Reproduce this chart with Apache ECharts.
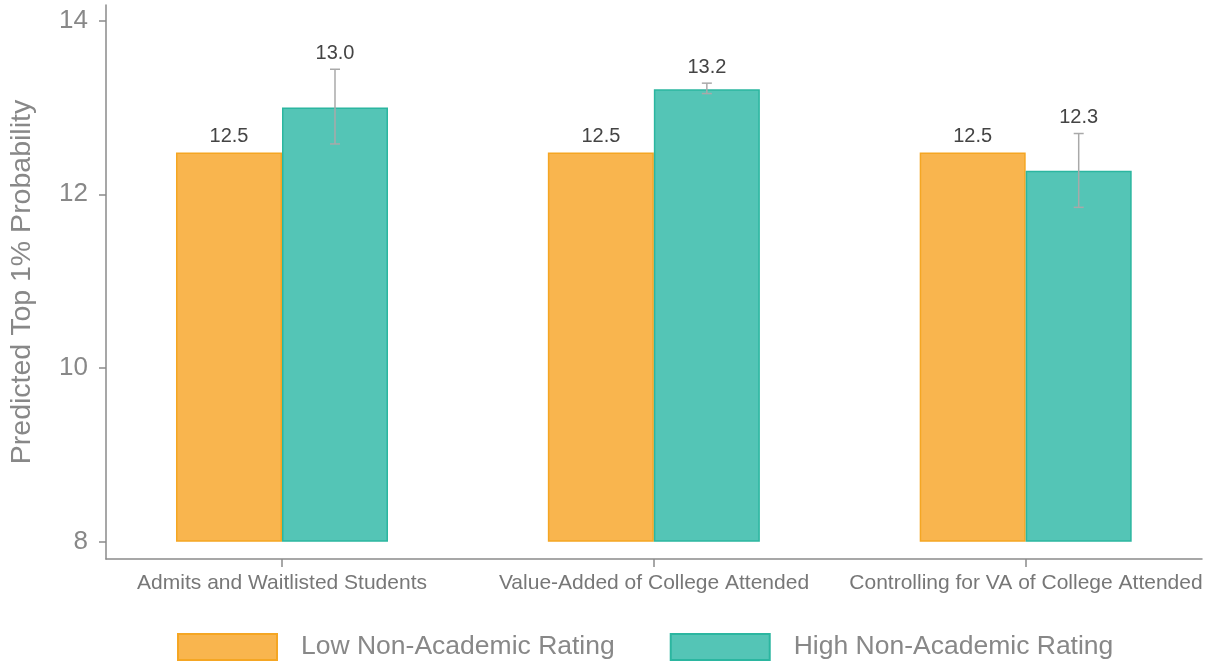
<!DOCTYPE html>
<html>
<head>
<meta charset="utf-8">
<script src="https://cdn.jsdelivr.net/npm/echarts@6/dist/echarts.min.js"></script>
<style>html,body{margin:0;padding:0;background:#fff}#chart{width:1216px;height:666px}</style>
</head>
<body>
<div id="chart"></div>
<script>
// ---- data ----
const categories = ['Admits and Waitlisted Students', 'Value-Added of College Attended', 'Controlling for VA of College Attended'];
const seriesNames = ['Low Non-Academic Rating', 'High Non-Academic Rating'];
const lowValues = [12.48, 12.48, 12.48];
const highValues = [13.00, 13.21, 12.27];
const highErrLow = [12.58, 13.16, 11.85];
const highErrHigh = [13.44, 13.28, 12.70];
const barBase = 8;
const yTicks = [8, 10, 12, 14];
const xPositions = [1, 2, 3];

// ---- style ----
const FONT = '"Liberation Sans", Arial, Helvetica, sans-serif';
const AXIS_COLOR = '#8a8a8a';
const BAR_W = 106;
const lowFill = '#F9B54E', lowBorder = '#F5A623';
const highFill = '#54C5B6', highBorder = '#2BB6A0';
const Y_MIN = 7.80, Y_MAX = 14.18;
const X_MIN = 0.5267, X_MAX = 3.4733;
const BAND = 371.85;

const chart = echarts.init(document.getElementById('chart'));

function stackData(vals) { return vals.map(v => v - barBase); }
function baseData() { return categories.map(() => barBase); }

function errRender(offset) {
  return function (params, api) {
    const x = api.value(0), lo = api.value(1), hi = api.value(2), val = api.value(3);
    const pTop = api.coord([x, Math.max(hi, val)]);
    const pLo = api.coord([x, lo]);
    const pHi = api.coord([x, hi]);
    const cx = pTop[0] + offset;
    const children = [];
    if (hi > lo) {
      const st = { stroke: '#a9a9a9', lineWidth: 1.5 };
      children.push({ type: 'line', shape: { x1: cx, y1: pHi[1], x2: cx, y2: pLo[1] }, style: st });
      children.push({ type: 'line', shape: { x1: cx - 5, y1: pHi[1], x2: cx + 5, y2: pHi[1] }, style: st });
      children.push({ type: 'line', shape: { x1: cx - 5, y1: pLo[1], x2: cx + 5, y2: pLo[1] }, style: st });
    }
    children.push({
      type: 'text',
      style: { text: val.toFixed(1), x: cx, y: pTop[1] - 6, textAlign: 'center', textVerticalAlign: 'bottom',
        fontSize: 20, fontFamily: FONT, fill: '#444' }
    });
    return { type: 'group', children };
  };
}

// axis frame grid position
const frameLeft = 106, frameRight = 14;
// bar grid aligned so category centres sit at the frame axis positions 1,2,3
const barGridLeft = frameLeft + (xPositions[0] - X_MIN) * BAND - BAND / 2;

const option = {
  animation: false,
  textStyle: { fontFamily: FONT },
  grid: [
    { left: barGridLeft, width: BAND * categories.length, top: 5, bottom: 107, containLabel: false },
    { left: frameLeft, right: frameRight, top: 5, bottom: 107, containLabel: false }
  ],
  legend: {
    data: seriesNames,
    left: 177, top: 633, padding: 0,
    itemWidth: 99, itemHeight: 26, itemGap: 55,
    icon: 'rect',
    textStyle: { fontSize: 26.5, color: '#888', fontFamily: FONT, padding: [0, 0, 0, 19] }
  },
  xAxis: [
    { type: 'category', gridIndex: 0, data: categories, show: false },
    {
      type: 'value', gridIndex: 1, min: X_MIN, max: X_MAX,
      splitLine: { show: false },
      axisLine: { show: true, lineStyle: { color: AXIS_COLOR, width: 1.5 } },
      axisTick: { show: true, length: 8, customValues: xPositions, lineStyle: { color: AXIS_COLOR, width: 1.5 } },
      axisLabel: { customValues: xPositions, formatter: v => categories[Math.round(v) - 1] || '',
        fontSize: 21, color: '#777', margin: 14, fontFamily: FONT }
    }
  ],
  yAxis: [
    { type: 'value', gridIndex: 0, min: Y_MIN, max: Y_MAX, show: false, splitLine: { show: false } },
    {
      type: 'value', gridIndex: 1, min: Y_MIN, max: Y_MAX,
      name: 'Predicted Top 1% Probability', nameLocation: 'middle', nameGap: 69,
      nameTextStyle: { fontSize: 28.5, color: '#888', fontFamily: FONT },
      splitLine: { show: false },
      axisLine: { show: true, lineStyle: { color: AXIS_COLOR, width: 1.5 } },
      axisTick: { show: true, length: 7, customValues: yTicks, lineStyle: { color: AXIS_COLOR, width: 1.5 } },
      axisLabel: { customValues: yTicks, fontSize: 26, color: '#888', margin: 18, fontFamily: FONT }
    }
  ],
  series: [
    { name: '_baseLow', type: 'bar', stack: 'low', data: baseData(), barWidth: BAR_W, barGap: '0%',
      itemStyle: { color: 'rgba(0,0,0,0)' }, silent: true },
    { name: '_baseHigh', type: 'bar', stack: 'high', data: baseData(), barWidth: BAR_W, barGap: '0%',
      itemStyle: { color: 'rgba(0,0,0,0)' }, silent: true },
    { name: seriesNames[0], type: 'bar', stack: 'low', data: stackData(lowValues), barWidth: BAR_W, barGap: '0%',
      itemStyle: { color: lowFill, borderColor: lowBorder, borderWidth: 1.5 } },
    { name: seriesNames[1], type: 'bar', stack: 'high', data: stackData(highValues), barWidth: BAR_W, barGap: '0%',
      itemStyle: { color: highFill, borderColor: highBorder, borderWidth: 1.5 } },
    { type: 'custom', renderItem: errRender(-BAR_W / 2), encode: { x: 0, y: [1, 2] }, z: 5,
      data: lowValues.map((v, i) => [i, v, v, v]) },
    { type: 'custom', renderItem: errRender(BAR_W / 2), encode: { x: 0, y: [1, 2] }, z: 5,
      data: highValues.map((v, i) => [i, highErrLow[i], highErrHigh[i], v]) }
  ]
};
chart.setOption(option);
</script>
</body>
</html>
